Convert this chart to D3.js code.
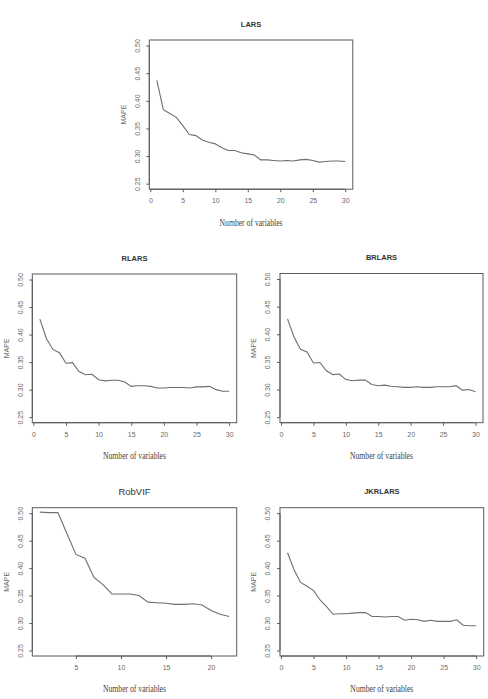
<!DOCTYPE html>
<html lang="en">
<head>
<meta charset="utf-8">
<title>MAPE by number of variables</title>
<script src="https://d3js.org/d3.v7.min.js"></script>
<style>
  body { margin: 0; background: #fff; }
  svg text { font-family: "Liberation Sans", Arial, sans-serif; }
  .xlab { font-family: "Liberation Serif", "Times New Roman", serif !important; }
</style>
</head>
<body>
<div id="chart"></div>
<script>
// MAPE values, one per number of variables (1..n)
var larsMape = [0.437, 0.384, 0.377, 0.370, 0.355, 0.339, 0.337, 0.329, 0.325, 0.322,
                0.315, 0.310, 0.310, 0.306, 0.304, 0.302, 0.293, 0.293, 0.292, 0.291,
                0.292, 0.291, 0.293, 0.294, 0.292, 0.289, 0.290, 0.291, 0.291, 0.290];
var rlarsMape = [0.428, 0.393, 0.373, 0.367, 0.348, 0.349, 0.333, 0.327, 0.328, 0.318,
                 0.316, 0.317, 0.317, 0.314, 0.306, 0.307, 0.307, 0.306, 0.303, 0.303,
                 0.304, 0.304, 0.304, 0.303, 0.305, 0.305, 0.306, 0.300, 0.297, 0.297];
var brlarsMape = [0.428, 0.395, 0.373, 0.368, 0.348, 0.349, 0.334, 0.327, 0.328, 0.318,
                  0.316, 0.317, 0.317, 0.309, 0.307, 0.308, 0.306, 0.305, 0.304, 0.304,
                  0.305, 0.304, 0.304, 0.305, 0.305, 0.305, 0.307, 0.299, 0.300, 0.296];
var robvifMape = [0.502, 0.501, 0.501, 0.463, 0.425, 0.418, 0.383, 0.370, 0.353, 0.353,
                  0.353, 0.350, 0.338, 0.337, 0.336, 0.334, 0.334, 0.335, 0.333, 0.323,
                  0.316, 0.312];
var jkrlarsMape = [0.428, 0.397, 0.374, 0.367, 0.359, 0.342, 0.330, 0.316, 0.317, 0.317,
                   0.318, 0.319, 0.319, 0.312, 0.312, 0.311, 0.312, 0.312, 0.305, 0.307,
                   0.306, 0.303, 0.305, 0.303, 0.303, 0.303, 0.306, 0.296, 0.295, 0.295];

var yTicks = [0.25, 0.30, 0.35, 0.40, 0.45, 0.50];
var xTicks30 = [0, 5, 10, 15, 20, 25, 30];
var xTicks22 = [5, 10, 15, 20];

// where each panel's plot box sits on the page
var panels = [
  {title: "LARS",    values: larsMape,    xticks: xTicks30, box: [149.3, 352.8, 40, 189.2], tsize: 7.5, bold: true},
  {title: "RLARS",   values: rlarsMape,   xticks: xTicks30, box: [32.3, 236.7, 274, 422.7], tsize: 7.5, bold: true},
  {title: "BRLARS",  values: brlarsMape,  xticks: xTicks30, box: [280, 483, 273.5, 422.7], tsize: 7.5, bold: true},
  {title: "RobVIF",  values: robvifMape,  xticks: xTicks22, box: [32.3, 236.7, 507.7, 656], tsize: 9.5, bold: false},
  {title: "JKRLARS", values: jkrlarsMape, xticks: xTicks30, box: [280, 483.7, 507.7, 656], tsize: 7.5, bold: true}
];

var svg = d3.select("#chart").append("svg")
  .attr("width", 488)
  .attr("height", 699);

var boxCol = "#5a5a5a", lineCol = "#6e6e6e", textCol = "#6a6a6a";

panels.forEach(function(p) {
  var left = p.box[0], right = p.box[1], top = p.box[2], bottom = p.box[3];
  var n = p.values.length;
  var pad = 0.04 * (n - 1);

  var x = d3.scaleLinear().domain([1 - pad, n + pad]).range([left, right]);
  var y = d3.scaleLinear().domain([0.24, 0.51]).range([bottom, top]);

  var g = svg.append("g");

  // plot box
  g.append("rect")
    .attr("x", left).attr("y", top)
    .attr("width", right - left).attr("height", bottom - top)
    .attr("fill", "none").attr("stroke", boxCol).attr("stroke-width", 1);

  // x axis
  var xa = g.append("g")
    .attr("transform", "translate(0," + bottom + ")")
    .call(d3.axisBottom(x).tickValues(p.xticks).tickSize(3).tickSizeOuter(0).tickFormat(d3.format("d")));
  xa.select(".domain").attr("d", "M" + x(p.xticks[0]) + ",0H" + x(p.xticks[p.xticks.length - 1]))
    .attr("stroke", boxCol);
  xa.selectAll(".tick line").attr("stroke", boxCol);
  xa.selectAll(".tick text")
    .attr("y", 9).attr("font-size", 7).attr("fill", textCol)
    .attr("font-family", "Liberation Sans, Arial, sans-serif");

  // y axis, labels turned parallel to the axis
  var ya = g.append("g")
    .attr("transform", "translate(" + left + ",0)")
    .call(d3.axisLeft(y).tickValues(yTicks).tickSize(3).tickSizeOuter(0).tickFormat(d3.format(".2f")));
  ya.select(".domain").attr("d", "M0," + y(yTicks[0]) + "V" + y(yTicks[yTicks.length - 1]))
    .attr("stroke", boxCol);
  ya.selectAll(".tick line").attr("stroke", boxCol);
  ya.selectAll(".tick text")
    .attr("x", null).attr("dy", null)
    .attr("text-anchor", "middle")
    .attr("transform", "translate(-12,0) rotate(-90)")
    .attr("dy", "0.35em")
    .attr("font-size", 7).attr("fill", textCol)
    .attr("font-family", "Liberation Sans, Arial, sans-serif");

  // series line
  g.append("path")
    .datum(p.values)
    .attr("fill", "none")
    .attr("stroke", lineCol)
    .attr("stroke-width", 1.1)
    .attr("d", d3.line()
      .x(function(d, i) { return x(i + 1); })
      .y(function(d) { return y(d); }));

  // title
  g.append("text")
    .attr("x", (left + right) / 2)
    .attr("y", top - 16)
    .attr("dy", "0.35em")
    .attr("text-anchor", "middle")
    .attr("font-size", p.tsize)
    .attr("font-weight", p.bold ? "bold" : "normal")
    .attr("fill", "#333")
    .text(p.title);

  // y label
  g.append("text")
    .attr("transform", "translate(" + (left - 26) + "," + ((top + bottom) / 2) + ") rotate(-90)")
    .attr("dy", "0.35em")
    .attr("text-anchor", "middle")
    .attr("font-size", 7)
    .attr("fill", textCol)
    .text("MAPE");

  // x label
  g.append("text")
    .attr("class", "xlab")
    .attr("x", (left + right) / 2)
    .attr("y", bottom + 33)
    .attr("dy", "0.35em")
    .attr("text-anchor", "middle")
    .attr("font-size", 9.5)
    .attr("textLength", 63)
    .attr("lengthAdjust", "spacingAndGlyphs")
    .attr("fill", "#444")
    .text("Number of variables");
});
</script>
</body>
</html>
